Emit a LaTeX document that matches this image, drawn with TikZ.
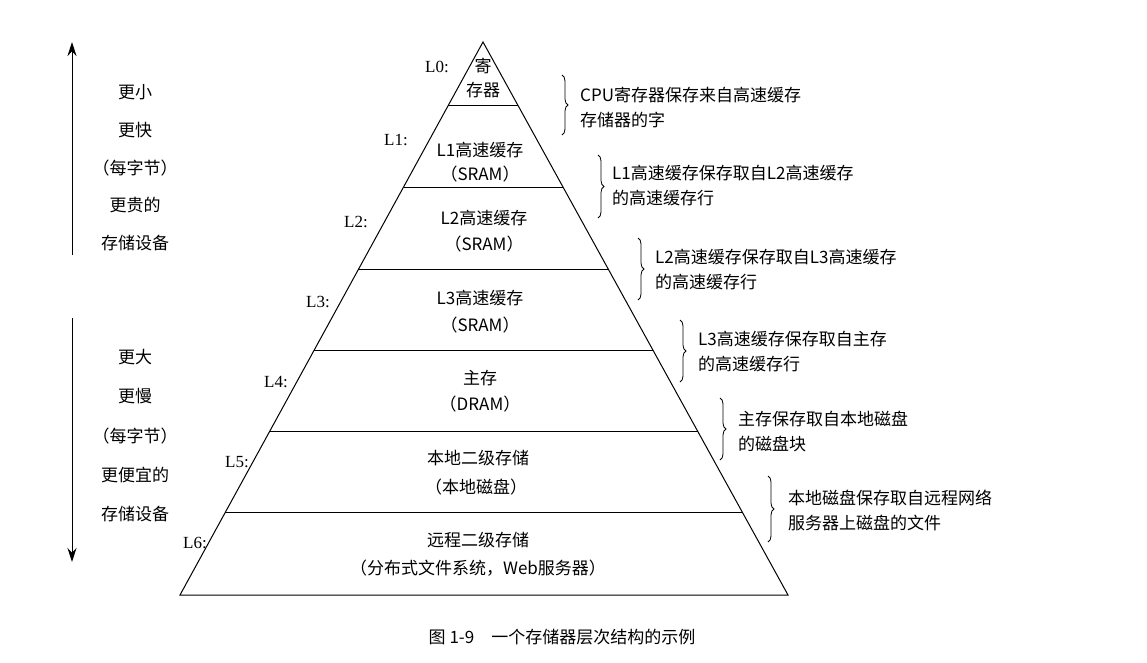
\documentclass[tikz,border=0pt]{standalone}
\usepackage{fontspec}
\setmainfont{Liberation Serif}
\newfontfamily\cjk{Noto Sans CJK SC}
\usetikzlibrary{decorations.pathreplacing,arrows.meta}
\begin{document}
\begin{tikzpicture}[x=1pt,y=-1pt,
  every node/.style={font=\fontsize{17}{20}\selectfont\cjk, inner sep=0pt},
  lab/.style={font=\fontsize{17}{20}\selectfont},
  desc/.style={anchor=west,align=left,font=\fontsize{17}{25}\selectfont\cjk},
  brc/.style={decorate,decoration={brace,amplitude=6pt},line width=0.8pt},
  ln/.style={line width=1pt}]
\useasboundingbox (0,0) rectangle (1147,662);
\coordinate (apex) at (483,42);
\coordinate (bl) at (180,595);
\coordinate (br) at (788,595);
\draw[ln] (bl) -- (apex) -- (br) -- cycle;
\foreach \y/\n in {105/a,187/b,269/c,350/d,431/e,512/f}{
  \pgfmathsetmacro{\xl}{483-0.5479*(\y-42)}
  \pgfmathsetmacro{\xr}{483+0.5515*(\y-42)}
  \draw[ln] (\xl,\y) coordinate (l\n) -- (\xr,\y) coordinate (r\n);
}
% level texts
\node (t0a) at (483,66) {寄};
\node (t0b) at (483,90) {存器};
\node (t1a) at (480,150) {L1高速缓存};
\node (t1b) at (480,174) {（SRAM）};
\node (t2a) at (484,218) {L2高速缓存};
\node (t2b) at (484,244) {（SRAM）};
\node (t3a) at (480,298) {L3高速缓存};
\node (t3b) at (480,325) {（SRAM）};
\node (t4a) at (480,378) {主存};
\node (t4b) at (480,404) {（DRAM）};
\node (t5a) at (478,458) {本地二级存储};
\node (t5b) at (476,487) {（本地磁盘）};
\node (t6a) at (478,540) {远程二级存储};
\node (t6b) at (478,568) {（分布式文件系统，Web服务器）};
% L labels
\node[lab] (L0) at (437,67) {L0:};
\node[lab] (L1) at (396,140) {L1:};
\node[lab] (L2) at (356,222) {L2:};
\node[lab] (L3) at (318,302) {L3:};
\node[lab] (L4) at (276,382) {L4:};
\node[lab] (L5) at (237,462) {L5:};
\node[lab] (L6) at (195,543) {L6:};
% braces
\coordinate (b1t) at (562,75);  \coordinate (b1b) at (562,135);
\coordinate (b2t) at (598,155); \coordinate (b2b) at (598,218);
\coordinate (b3t) at (638,238); \coordinate (b3b) at (638,300);
\coordinate (b4t) at (680,320); \coordinate (b4b) at (680,382);
\coordinate (b5t) at (720,398); \coordinate (b5b) at (720,460);
\coordinate (b6t) at (768,476); \coordinate (b6b) at (768,542);
\foreach \i in {1,...,6}{\draw[brc] (b\i t) -- (b\i b);}
\node[desc] (d1) at (580,107) {CPU寄存器保存来自高速缓存\\存储器的字};
\node[desc] (d2) at (612,186) {L1高速缓存保存取自L2高速缓存\\的高速缓存行};
\node[desc] (d3) at (655,270) {L2高速缓存保存取自L3高速缓存\\的高速缓存行};
\node[desc] (d4) at (698,352) {L3高速缓存保存取自主存\\的高速缓存行};
\node[desc] (d5) at (738,431) {主存保存取自本地磁盘\\的磁盘块};
\node[desc] (d6) at (788,510) {本地磁盘保存取自远程网络\\服务器上磁盘的文件};
% left arrows
\coordinate (a1s) at (72,255); \coordinate (a1e) at (72,42);
\coordinate (a2s) at (72,318); \coordinate (a2e) at (72,562);
\draw[ln,-{Stealth[length=14pt,width=9pt]}] (a1s) -- (a1e);
\draw[ln,-{Stealth[length=14pt,width=9pt]}] (a2s) -- (a2e);
\node (u1) at (135,92) {更小};
\node (u2) at (135,130) {更快};
\node (u3) at (135,168) {（每字节）};
\node (u4) at (135,205) {更贵的};
\node (u5) at (135,243) {存储设备};
\node (w1) at (135,357) {更大};
\node (w2) at (135,396) {更慢};
\node (w3) at (135,436) {（每字节）};
\node (w4) at (135,475) {更便宜的};
\node (w5) at (135,514) {存储设备};
\node (cap) at (562,637) {图 1-9\quad 一个存储器层次结构的示例};
\end{tikzpicture}
\end{document}
